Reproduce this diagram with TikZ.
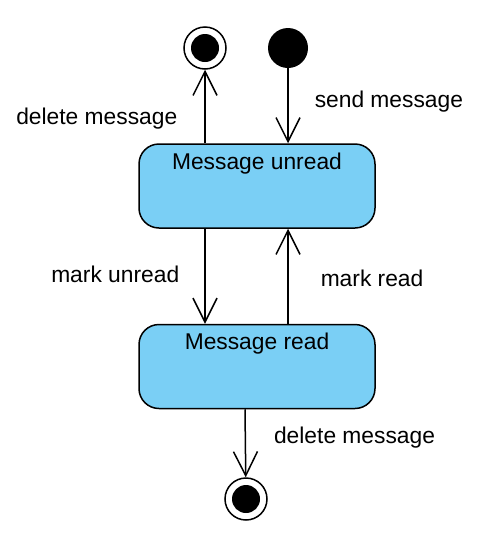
\documentclass[tikz,border=0pt]{standalone}
\usepackage{fontspec}
\setmainfont{Liberation Sans}
\usetikzlibrary{positioning,arrows.meta}
\definecolor{statefill}{RGB}{122,207,245}
\begin{document}
\begin{tikzpicture}[x=0.5pt,y=-0.5pt]
	\tikzstyle{state}=[rectangle,rounded corners=10pt,draw=black,line width=0.75pt,fill=statefill,minimum width=118pt,minimum height=42pt]
	\tikzstyle{initial}=[circle,fill=black,minimum size=20pt,inner sep=0pt]
	\tikzstyle{final}=[circle,draw=black,line width=0.75pt,fill=white,minimum size=21pt,inner sep=0pt,path picture={\fill[black] (path picture bounding box.center) circle (7pt);}]
	\tikzstyle{edge}=[draw,line width=0.75pt,-{Straight Barb[length=12pt,width=12pt]}]
	\tikzstyle{trans}=[font=\fontsize{11.4}{13}\selectfont,inner sep=0pt]
	\useasboundingbox (0,0) rectangle (497,541);
	\begin{scope}
		\node [final] (f1) at (205,48) {};
		\node [initial] (s0) at (288,48) {};
		\node [state,label={[trans,anchor=north,inner sep=4.5pt]north:Message unread}] (unread) at (257,186) {};
		\node [state,label={[trans,anchor=north,inner sep=4.5pt]north:Message read}] (read) at (257,366.5) {};
		\node [final] (f2) at (246,499) {};
		\path (f1 |- unread.north) edge [edge] node[trans,left=13.5pt,pos=0.33] {delete message} (f1);
		\path (s0) edge [edge] node[trans,right=13pt,pos=0.45] {send message} (s0 |- unread.north);
		\path ([xshift=-26pt]unread.south) edge [edge] node[trans,left=12.5pt,pos=0.48] {mark unread} ([xshift=-26pt]read.north);
		\path ([xshift=15.5pt]read.north) edge [edge] node[trans,right=16pt,pos=0.48] {mark read} ([xshift=15.5pt]unread.south);
		\path ([xshift=-6pt]read.south) edge [edge] node[trans,right=14pt,pos=0.42] {delete message} (f2);
	\end{scope}
\end{tikzpicture}
\end{document}
